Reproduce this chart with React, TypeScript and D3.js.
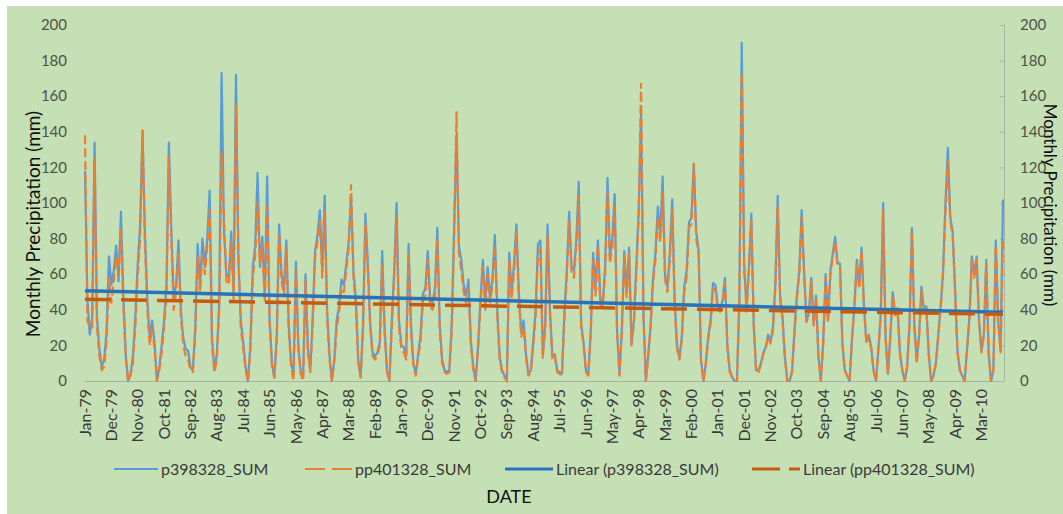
import React from 'react';
import * as d3 from 'd3';

// Monthly precipitation totals (mm), one row per year, Jan..Dec
const YEARS = [
  1979, 1980, 1981, 1982, 1983, 1984, 1985, 1986, 1987, 1988, 1989, 1990, 1991, 1992, 1993, 1994,
  1995, 1996, 1997, 1998, 1999, 2000, 2001, 2002, 2003, 2004, 2005, 2006, 2007, 2008, 2009, 2010,
];
const MONTHS = ['Jan', 'Feb', 'Mar', 'Apr', 'May', 'Jun', 'Jul', 'Aug', 'Sep', 'Oct', 'Nov', 'Dec'];

const P398328: number[][] = [
  [118, 46, 26, 36, 134, 36, 18, 8, 12, 28, 70, 54],
  [62, 76, 56, 95, 48, 15, 0, 4, 14, 36, 66, 88],
  [140, 84, 46, 24, 34, 22, 0, 8, 20, 34, 55, 134],
  [86, 46, 54, 79, 40, 24, 18, 17, 8, 6, 30, 77],
  [54, 80, 64, 80, 107, 24, 6, 15, 44, 173, 84, 60],
  [58, 84, 50, 172, 68, 34, 22, 8, 0, 20, 64, 76],
  [117, 64, 81, 48, 115, 36, 10, 2, 26, 88, 60, 52],
  [79, 32, 10, 4, 67, 20, 5, 2, 60, 18, 6, 36],
  [73, 82, 96, 62, 104, 40, 15, 0, 12, 34, 42, 57],
  [54, 66, 78, 104, 62, 46, 12, 2, 32, 94, 66, 32],
  [16, 14, 16, 22, 73, 30, 6, 0, 34, 62, 100, 34],
  [20, 19, 14, 77, 32, 10, 4, 15, 26, 49, 52, 73],
  [46, 44, 52, 86, 32, 12, 6, 5, 6, 32, 86, 138],
  [76, 68, 54, 48, 57, 22, 8, 0, 20, 46, 68, 44],
  [64, 46, 58, 82, 40, 14, 6, 3, 0, 72, 50, 66],
  [88, 50, 27, 34, 15, 4, 6, 22, 40, 77, 79, 15],
  [32, 88, 40, 14, 15, 6, 5, 4, 38, 62, 95, 64],
  [62, 80, 112, 32, 22, 6, 4, 28, 72, 52, 79, 46],
  [44, 64, 114, 70, 80, 105, 28, 4, 30, 73, 50, 75],
  [21, 34, 64, 96, 150, 38, 0, 15, 32, 58, 72, 98],
  [82, 115, 60, 53, 72, 102, 46, 20, 13, 25, 53, 62],
  [89, 92, 122, 84, 74, 12, 0, 10, 25, 34, 55, 54],
  [42, 41, 45, 58, 20, 6, 2, 0, 0, 46, 190, 66],
  [41, 64, 94, 32, 6, 6, 10, 16, 19, 26, 22, 30],
  [54, 104, 48, 36, 14, 0, 0, 6, 28, 48, 62, 96],
  [62, 34, 38, 58, 32, 48, 14, 0, 22, 60, 34, 62],
  [72, 81, 66, 66, 21, 6, 3, 0, 24, 42, 68, 54],
  [75, 42, 22, 26, 19, 6, 0, 18, 38, 100, 25, 4],
  [26, 50, 38, 41, 16, 6, 0, 8, 32, 86, 32, 11],
  [26, 53, 40, 42, 16, 0, 3, 10, 26, 42, 62, 100],
  [131, 92, 84, 52, 17, 6, 3, 0, 18, 36, 70, 60],
  [70, 34, 17, 26, 68, 16, 0, 6, 79, 34, 17, 102],
];

const PP401328: number[][] = [
  [138, 34, 30, 30, 125, 30, 14, 6, 8, 22, 58, 44],
  [56, 70, 60, 86, 42, 12, 0, 3, 10, 30, 60, 80],
  [141, 76, 40, 20, 30, 18, 0, 6, 16, 30, 48, 126],
  [80, 40, 50, 72, 36, 20, 14, 12, 6, 5, 26, 70],
  [50, 72, 60, 76, 96, 20, 5, 12, 40, 128, 90, 56],
  [54, 78, 46, 155, 72, 30, 18, 6, 0, 18, 58, 70],
  [100, 66, 76, 44, 98, 32, 8, 2, 22, 82, 56, 48],
  [74, 28, 8, 0, 62, 18, 4, 0, 56, 16, 5, 32],
  [70, 78, 90, 58, 95, 36, 12, 0, 10, 30, 38, 52],
  [50, 62, 74, 110, 58, 42, 10, 2, 28, 88, 62, 30],
  [14, 12, 14, 20, 66, 27, 5, 0, 30, 58, 92, 30],
  [18, 16, 12, 72, 28, 8, 3, 13, 22, 45, 48, 68],
  [42, 40, 48, 80, 28, 10, 5, 4, 5, 28, 80, 151],
  [72, 62, 50, 44, 52, 20, 6, 0, 18, 42, 64, 40],
  [60, 44, 54, 76, 36, 12, 5, 2, 0, 68, 46, 62],
  [84, 46, 25, 30, 13, 3, 5, 20, 36, 72, 74, 13],
  [30, 82, 37, 12, 14, 5, 4, 3, 35, 58, 90, 60],
  [58, 76, 104, 30, 20, 5, 3, 26, 68, 48, 76, 43],
  [42, 60, 106, 66, 76, 98, 26, 3, 28, 70, 47, 72],
  [20, 32, 60, 92, 167, 36, 0, 14, 30, 55, 68, 92],
  [78, 106, 57, 50, 68, 96, 43, 18, 12, 23, 50, 58],
  [86, 88, 122, 80, 71, 11, 0, 9, 23, 32, 52, 51],
  [40, 39, 43, 55, 19, 5, 2, 0, 0, 44, 173, 63],
  [39, 62, 90, 31, 5, 5, 9, 15, 18, 25, 21, 28],
  [52, 98, 46, 35, 13, 0, 0, 5, 27, 46, 60, 92],
  [60, 33, 37, 56, 31, 46, 13, 0, 21, 58, 33, 60],
  [70, 78, 64, 64, 20, 6, 3, 0, 23, 41, 66, 52],
  [73, 41, 21, 25, 18, 6, 0, 17, 37, 96, 24, 4],
  [25, 48, 37, 40, 15, 6, 0, 8, 31, 84, 31, 10],
  [25, 51, 39, 41, 15, 0, 3, 10, 25, 41, 60, 96],
  [124, 90, 82, 50, 16, 6, 3, 0, 17, 35, 68, 58],
  [68, 33, 16, 25, 66, 15, 0, 6, 76, 33, 16, 80],
];

const X_TICK_LABELS = [
  'Jan-79', 'Dec-79', 'Nov-80', 'Oct-81', 'Sep-82', 'Aug-83', 'Jul-84', 'Jun-85', 'May-86',
  'Apr-87', 'Mar-88', 'Feb-89', 'Jan-90', 'Dec-90', 'Nov-91', 'Oct-92', 'Sep-93', 'Aug-94',
  'Jul-95', 'Jun-96', 'May-97', 'Apr-98', 'Mar-99', 'Feb-00', 'Jan-01', 'Dec-01', 'Nov-02',
  'Oct-03', 'Sep-04', 'Aug-05', 'Jul-06', 'Jun-07', 'May-08', 'Apr-09', 'Mar-10',
];
const Y_TICKS = [0, 20, 40, 60, 80, 100, 120, 140, 160, 180, 200];

const SERIES_NAMES = ['p398328_SUM', 'pp401328_SUM'];

const W = 1063;
const H = 514;
const FONT = 'Lato, "Open Sans", sans-serif';

function linearFit(vals: number[]) {
  const n = vals.length;
  const xs = d3.range(n);
  const mx = d3.mean(xs)!;
  const my = d3.mean(vals)!;
  let sxy = 0;
  let sxx = 0;
  for (let i = 0; i < n; i++) {
    sxy += (xs[i] - mx) * (vals[i] - my);
    sxx += (xs[i] - mx) * (xs[i] - mx);
  }
  const b = sxy / sxx;
  const a = my - b * mx;
  return [a, a + b * (n - 1)];
}

export default function App() {
  const dates = YEARS.flatMap((yr) => MONTHS.map((m) => `${m}-${String(yr).slice(2)}`));
  const blue = P398328.flat();
  const orange = PP401328.flat();

  const x = d3.scalePoint<string>().domain(dates).range([85, 1003]);
  const y = d3.scaleLinear().domain([0, 200]).range([381, 25]);

  const line = d3
    .line<number>()
    .x((_, i) => x(dates[i])!)
    .y((d) => y(d));

  const blueFit = linearFit(blue);
  const orangeFit = linearFit(orange);
  const x0 = x(dates[0])!;
  const x1 = x(dates[dates.length - 1])!;

  const tickColor = '#3a3a3a';
  const axisNum = '#4a5446';

  return (
    <svg
      width={W}
      height={H}
      viewBox={`0 0 ${W} ${H}`}
      style={{ position: 'absolute', left: 0, top: 0, background: '#ffffff' }}
      fontFamily={FONT}
    >
      <rect x={7.5} y={6.5} width={1070} height={520} fill="#c5e0b4" stroke="#d0d6cc" strokeWidth={1} />

      {/* baseline and right value axis */}
      <line x1={85} x2={1004} y1={y(0) + 0.5} y2={y(0) + 0.5} stroke="#a8b4a0" strokeWidth={1} />
      <line x1={1004.5} x2={1004.5} y1={y(200)} y2={y(0)} stroke="#a8b4a0" strokeWidth={1} />
      {Y_TICKS.map((t) => (
        <line key={`rt${t}`} x1={1000} x2={1004} y1={y(t) + 0.5} y2={y(t) + 0.5} stroke="#a8b4a0" />
      ))}

      {Y_TICKS.map((t) => (
        <text key={`ly${t}`} x={67} y={y(t)} dy="0.35em" textAnchor="end" fontSize={15} fill={axisNum}>
          {t}
        </text>
      ))}
      {Y_TICKS.map((t) => (
        <text key={`ry${t}`} x={1020} y={y(t)} dy="0.35em" textAnchor="start" fontSize={15} fill={axisNum}>
          {t}
        </text>
      ))}

      {/* category labels */}
      {X_TICK_LABELS.map((lab) => {
        const px = x(lab)!;
        return (
          <text
            key={lab}
            transform={`translate(${px},389) rotate(-90)`}
            textAnchor="end"
            dy="0.35em"
            fontSize={16}
            fill={tickColor}
          >
            {lab}
          </text>
        );
      })}

      {/* series */}
      <path d={line(blue)!} fill="none" stroke="#5b9bd5" strokeWidth={2.2} strokeLinejoin="round" />
      <path
        d={line(orange)!}
        fill="none"
        stroke="#ed7d31"
        strokeWidth={2.2}
        strokeDasharray="9 4"
        strokeLinejoin="round"
      />

      {/* linear trends */}
      <line x1={x0} x2={x1} y1={y(blueFit[0])} y2={y(blueFit[1])} stroke="#2872b9" strokeWidth={3.5} />
      <line
        x1={x0}
        x2={x1}
        y1={y(orangeFit[0])}
        y2={y(orangeFit[1])}
        stroke="#c55a11"
        strokeWidth={3.5}
        strokeDasharray="26 10"
      />

      {/* legend */}
      <g fontSize={16} fill={tickColor}>
        <line x1={114} x2={158} y1={469} y2={469} stroke="#5b9bd5" strokeWidth={2} />
        <text x={161} y={469} dy="0.35em">{SERIES_NAMES[0]}</text>
        <line x1={305} x2={352} y1={469} y2={469} stroke="#ed7d31" strokeWidth={2} strokeDasharray="20 7" />
        <text x={355} y={469} dy="0.35em">{SERIES_NAMES[1]}</text>
        <line x1={505} x2={553} y1={469} y2={469} stroke="#2872b9" strokeWidth={3} />
        <text x={556} y={469} dy="0.35em">{`Linear (${SERIES_NAMES[0]})`}</text>
        <line x1={752} x2={800} y1={469} y2={469} stroke="#c55a11" strokeWidth={3} strokeDasharray="28 9" />
        <text x={803} y={469} dy="0.35em">{`Linear (${SERIES_NAMES[1]})`}</text>
      </g>

      {/* axis titles */}
      <text
        transform="translate(33,224) rotate(-90)"
        textAnchor="middle"
        dy="0.35em"
        fontSize={19}
        fill="#111"
      >
        Monthly Precipitation (mm)
      </text>
      <text
        transform="translate(1050,205) rotate(90)"
        textAnchor="middle"
        dy="0.35em"
        fontSize={17}
        fill="#111"
      >
        Monthly Precipitation (mm)
      </text>
      <text x={509} y={497} dy="0.35em" textAnchor="middle" fontSize={18} fill="#111">
        DATE
      </text>
    </svg>
  );
}
